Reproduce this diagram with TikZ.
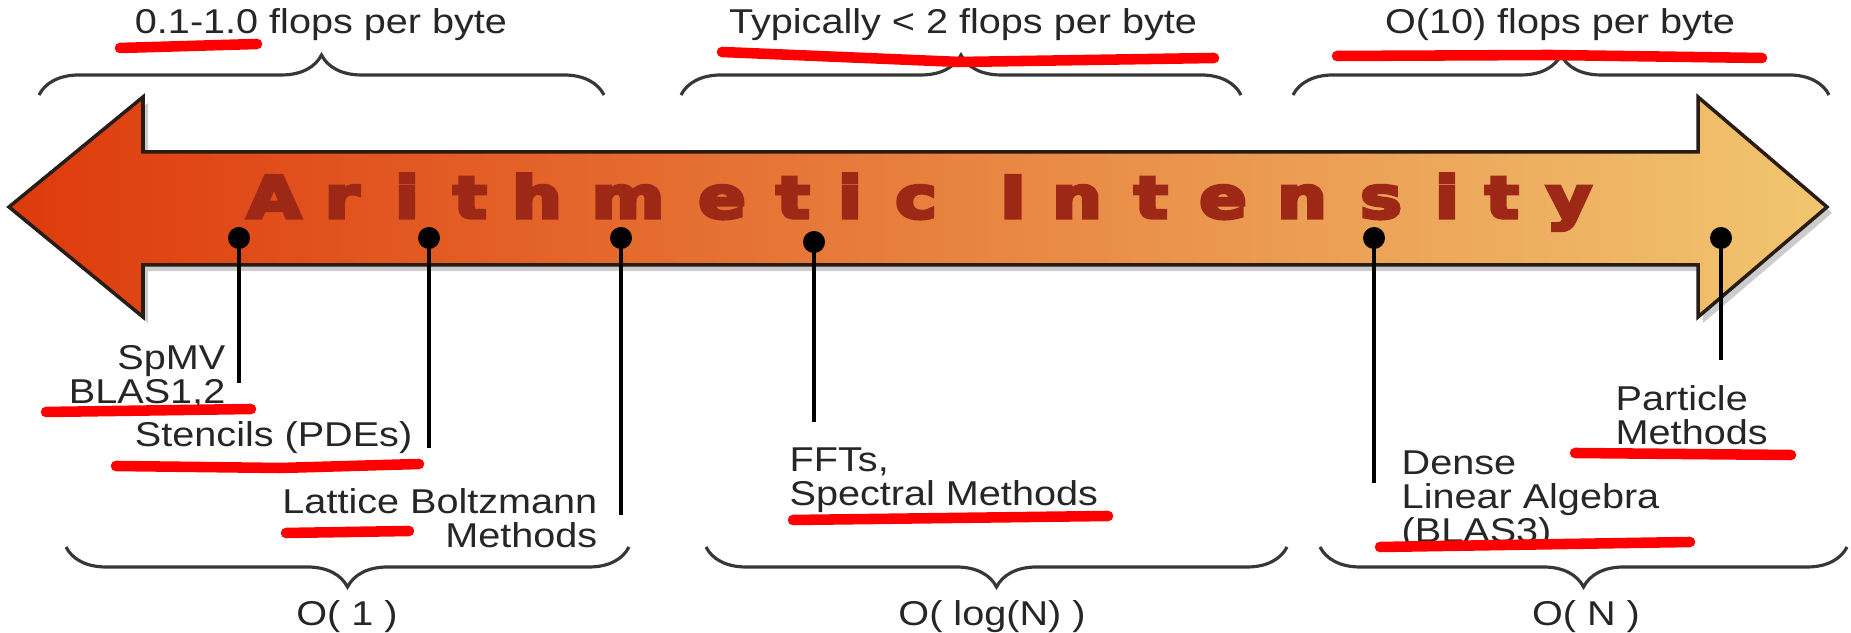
\documentclass[tikz,border=0pt]{standalone}
\usepackage{fontspec}
\setmainfont{Liberation Sans}[FakeStretch=1.15]
\newfontfamily\bigfont{DejaVu Sans Bold}[FakeBold=6]
\usetikzlibrary{decorations.pathreplacing,shadows}
\definecolor{arrowred}{RGB}{222,58,12}
\definecolor{arroworange}{RGB}{230,128,70}
\definecolor{arrowsand}{RGB}{241,198,112}
\definecolor{arrowline}{RGB}{40,28,20}
\definecolor{lettercol}{RGB}{158,40,22}
\definecolor{bracegray}{RGB}{55,55,55}
\begin{document}
\begin{tikzpicture}[
    letter/.style={anchor=base, inner sep=0pt, text=lettercol, xscale=1.2, transform shape,
      font=\bigfont\fontsize{16.5}{18}\selectfont},
    dotmark/.style={circle, fill=black, inner sep=0pt, minimum size=0.22cm},
    stem/.style={line width=0.9pt},
    txt/.style={inner sep=0pt, text=black!85, font=\fontsize{9.8}{9.7}\selectfont},
    bracket/.style={decorate, decoration={brace, amplitude=0.4cm}, draw=bracegray, line width=0.9pt},
    scribble/.style={draw=red, line width=3pt, line cap=round}]
  \useasboundingbox (0,0) rectangle (18.51,6.33);
  % the double arrow
  \shade[left color=arrowred, middle color=arroworange, right color=arrowsand,
    draw=arrowline, line width=1pt,
    drop shadow={shadow xshift=0.05cm, shadow yshift=-0.06cm, opacity=0.2, fill=black}]
    (0.09,4.26) -- (1.43,5.36) -- (1.43,4.81) -- (16.98,4.81) -- (16.98,5.36)
    -- (18.27,4.26) -- (16.98,3.16) -- (16.98,3.68) -- (1.43,3.68) -- (1.43,3.16) -- cycle;
  \foreach \c/\x [count=\i] in {A/2.74, r/3.42, i/4.07, t/4.70, h/5.37, m/6.28, e/7.22,
      t/7.93, i/8.50, c/9.16, I/10.13, n/10.77, t/11.51, e/12.23, n/13.02, s/13.81,
      i/14.47, t/15.02, y/15.69}
    \node[letter] (ch\i) at (\x,4.15) {\c};
  % pins
  \foreach \n/\x/\y/\e in {1/2.39/3.95/2.50, 2/4.29/3.95/1.85, 3/6.21/3.95/1.18,
      4/8.14/3.91/2.11, 5/13.74/3.95/1.50, 6/17.21/3.95/2.73} {
    \coordinate (end\n) at (\x,\e);
    \draw[stem] (\x,\y) -- (end\n);
    \node[dotmark] (dot\n) at (\x,\y) {};
  }
  \node[txt, anchor=north east, align=right] (spmv) at (2.26,2.88) {SpMV\\BLAS1,2};
  \node[txt, anchor=base east] (stencil) at (4.13,1.86) {Stencils (PDEs)};
  \node[txt, anchor=north east, align=right] (lattice) at (5.98,1.45) {Lattice Boltzmann\\Methods};
  \node[txt, anchor=north west, align=left] (fft) at (7.89,1.86) {FFTs,\\Spectral Methods};
  \node[txt, anchor=north west, align=left] (dense) at (14.01,1.83) {Dense\\Linear Algebra\\(BLAS3)};
  \node[txt, anchor=north west, align=left] (particle) at (16.15,2.48) {Particle\\Methods};
  % braces above
  \draw[bracket] (0.39,5.38) -- (6.04,5.38);
  \draw[bracket] (6.81,5.38) -- (12.41,5.38);
  \draw[bracket] (12.93,5.38) -- (18.29,5.38);
  \node[txt, anchor=base] (low) at (3.21,5.99) {0.1-1.0 flops per byte};
  \node[txt, anchor=base] (mid) at (9.63,5.99) {Typically < 2 flops per byte};
  \node[txt, anchor=base] (high) at (15.60,5.99) {O(10) flops per byte};
  % braces below
  \draw[bracket, decoration={mirror}] (0.66,0.86) -- (6.29,0.86);
  \draw[bracket, decoration={mirror}] (7.06,0.86) -- (12.87,0.86);
  \draw[bracket, decoration={mirror}] (13.20,0.86) -- (18.47,0.86);
  \node[txt, anchor=base] (o1) at (3.47,0.07) {O( 1 )};
  \node[txt, anchor=base] (ologn) at (9.92,0.07) {O( log(N) )};
  \node[txt, anchor=base] (on) at (15.86,0.07) {O( N )};
  % red underlines
  \draw[scribble] (1.20,5.85) -- (2.57,5.89);
  \draw[scribble] (7.22,5.81) -- (9.60,5.71) -- (12.14,5.75);
  \draw[scribble] (13.37,5.77) -- (15.50,5.78) -- (17.62,5.75);
  \draw[scribble] (0.46,2.21) -- (2.51,2.24);
  \draw[scribble] (1.16,1.67) -- (2.80,1.65) -- (4.19,1.69);
  \draw[scribble] (2.86,1.00) -- (4.09,1.02);
  \draw[scribble] (7.93,1.13) -- (11.08,1.17);
  \draw[scribble] (15.75,1.80) -- (17.91,1.78);
  \draw[scribble] (13.80,0.86) -- (16.90,0.91);
\end{tikzpicture}
\end{document}
